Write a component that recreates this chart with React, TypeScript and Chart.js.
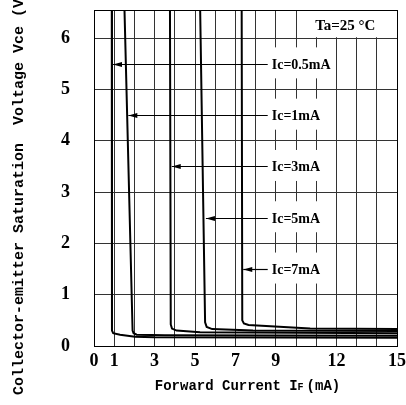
import React, { useEffect, useRef } from "react";
import { Chart, registerables } from "chart.js";

Chart.register(...registerables);

// ---- data ----
const xTickLabels = [0, 1, 3, 5, 7, 9, 12, 15];
const yTickLabels = [0, 1, 2, 3, 4, 5, 6];

const seriesNames = ["Ic=0.5mA", "Ic=1mA", "Ic=3mA", "Ic=5mA", "Ic=7mA"];

const ic05X = [0.88, 0.89, 0.95, 1.29, 2.03, 3.0, 15];
const ic05Y = [6.7, 0.3, 0.25, 0.22, 0.18, 0.17, 0.16];

const ic1X = [1.5, 1.91, 1.96, 2.11, 3.5, 15];
const ic1Y = [6.7, 0.3, 0.25, 0.22, 0.21, 0.2];

const ic3X = [3.76, 3.8, 3.86, 4.09, 5.25, 15];
const ic3Y = [6.7, 0.42, 0.34, 0.3, 0.27, 0.25];

const ic5X = [5.25, 5.5, 5.58, 5.85, 7.87, 15];
const ic5Y = [6.7, 0.46, 0.37, 0.33, 0.3, 0.29];

const ic7X = [7.31, 7.34, 7.42, 7.65, 10.7, 15];
const ic7Y = [6.7, 0.5, 0.44, 0.41, 0.34, 0.33];

const arrowY = [5.5, 4.5, 3.5, 2.5, 1.5];
const arrowTipX = [0.94, 1.7, 3.85, 5.54, 7.39];
const arrowEndX = [8.6, 8.6, 8.6, 8.6, 8.6];

const tempLabel = "Ta=25 °C";
const xTitleMain = "Forward Current I";
const xTitleSub = "F";
const xTitleUnit = "(mA)";
const yTitle = "Collector-emitter Saturation  Voltage Vce (V)";

const toPoints = (xs: number[], ys: number[]) => xs.map((x, i) => ({ x, y: ys[i] }));

const curves = [
  toPoints(ic05X, ic05Y),
  toPoints(ic1X, ic1Y),
  toPoints(ic3X, ic3Y),
  toPoints(ic5X, ic5Y),
  toPoints(ic7X, ic7Y),
];

const decorPlugin = {
  id: "decor",
  beforeDatasetsDraw(chart: any) {
    const { ctx, chartArea, scales } = chart;
    const xs = scales.x;
    const ys = scales.y;
    ctx.save();
    ctx.fillStyle = "#ffffff";
    arrowY.forEach((yv) => {
      const x0 = xs.getPixelForValue(8.75);
      const x1 = xs.getPixelForValue(11.5);
      const yc = ys.getPixelForValue(yv) - 1;
      ctx.fillRect(x0, yc - 15.5, x1 - x0, 31);
    });
    const tx0 = xs.getPixelForValue(10.5);
    const ty1 = ys.getPixelForValue(6) - 1;
    ctx.fillRect(tx0, chartArea.top, chartArea.right - tx0, ty1 - chartArea.top);
    ctx.strokeStyle = "#000";
    ctx.lineWidth = 1;
    ctx.strokeRect(
      Math.round(chartArea.left) + 0.5,
      Math.round(chartArea.top) + 0.5,
      Math.round(chartArea.right - chartArea.left),
      Math.round(chartArea.bottom - chartArea.top)
    );
    ctx.restore();
  },
  afterDatasetsDraw(chart: any) {
    const { ctx, chartArea, scales } = chart;
    const xs = scales.x;
    const ys = scales.y;
    ctx.save();
    ctx.strokeStyle = "#000";
    ctx.fillStyle = "#000";
    arrowY.forEach((yv, i) => {
      const y = Math.round(ys.getPixelForValue(yv)) + 0.5;
      const xt = xs.getPixelForValue(arrowTipX[i]);
      const xe = xs.getPixelForValue(arrowEndX[i]);
      ctx.lineWidth = 1.2;
      ctx.beginPath();
      ctx.moveTo(xt, y);
      ctx.lineTo(xe, y);
      ctx.stroke();
      ctx.beginPath();
      ctx.moveTo(xt, y);
      ctx.lineTo(xt + 9, y - 2.5);
      ctx.lineTo(xt + 9, y + 2.5);
      ctx.closePath();
      ctx.fill();
      ctx.font = "bold 14px 'Liberation Serif'";
      ctx.textAlign = "left";
      ctx.textBaseline = "middle";
      ctx.fillText(seriesNames[i], xe + 4, y + 1);
    });
    ctx.font = "bold 15px 'Liberation Serif'";
    ctx.textAlign = "left";
    ctx.textBaseline = "middle";
    ctx.fillText(tempLabel, xs.getPixelForValue(10.95), (chartArea.top + ys.getPixelForValue(6)) / 2 + 2);
    ctx.restore();
  },
  afterDraw(chart: any) {
    const { ctx, chartArea } = chart;
    ctx.save();
    ctx.fillStyle = "#000";
    ctx.translate(19, 395);
    ctx.rotate(-Math.PI / 2);
    ctx.font = "bold 15px 'Liberation Mono'";
    ctx.textAlign = "left";
    ctx.textBaseline = "middle";
    ctx.fillText(yTitle, 0, 0);
    ctx.restore();

    ctx.save();
    ctx.fillStyle = "#000";
    ctx.textBaseline = "alphabetic";
    ctx.textAlign = "left";
    const mainFont = "bold 14px 'Liberation Mono'";
    const subFont = "bold 10px 'Liberation Mono'";
    ctx.font = mainFont;
    const w1 = ctx.measureText(xTitleMain).width;
    const w3 = ctx.measureText(xTitleUnit).width;
    ctx.font = subFont;
    const w2 = ctx.measureText(xTitleSub).width;
    const gap = 3;
    const total = w1 + w2 + gap + w3;
    const cx = (chartArea.left + chartArea.right) / 2 + 2;
    let x = cx - total / 2;
    const base = 390;
    ctx.font = mainFont;
    ctx.fillText(xTitleMain, x, base);
    x += w1;
    ctx.font = subFont;
    ctx.fillText(xTitleSub, x, base);
    x += w2 + gap;
    ctx.font = mainFont;
    ctx.fillText(xTitleUnit, x, base);
    ctx.restore();
  },
};

export default function App() {
  const canvasRef = useRef<HTMLCanvasElement | null>(null);

  useEffect(() => {
    if (!canvasRef.current) return;
    const chart = new Chart(canvasRef.current, {
      type: "line",
      data: {
        datasets: curves.map((pts, i) => ({
          label: seriesNames[i],
          data: pts,
          borderColor: "#000",
          backgroundColor: "#000",
          borderWidth: 2,
          pointRadius: 0,
          fill: false,
          tension: 0,
          clip: 0,
        })),
      },
      options: {
        animation: false,
        responsive: false,
        devicePixelRatio: 1,
        layout: { padding: { top: 10, right: 9, left: 0, bottom: 0 } },
        plugins: {
          legend: { display: false },
          tooltip: { enabled: false },
          title: { display: false },
        },
        scales: {
          x: {
            type: "linear",
            min: 0,
            max: 15,
            afterFit: (scale: any) => {
              scale.height = 59;
              scale.paddingLeft = 0;
              scale.paddingRight = 0;
            },
            ticks: {
              stepSize: 1,
              autoSkip: false,
              maxRotation: 0,
              padding: 5,
              color: "#000",
              font: { family: "'Liberation Serif'", size: 18, weight: "bold" },
              callback: (v: any) => (xTickLabels.includes(Number(v)) ? String(v) : ""),
            },
            grid: { color: "#333", lineWidth: 1, drawTicks: false },
            border: { display: true, color: "#000", width: 1 },
          },
          y: {
            type: "linear",
            min: 0,
            max: 6.55,
            afterFit: (scale: any) => {
              scale.width = 94;
              scale.paddingTop = 0;
              scale.paddingBottom = 0;
            },
            ticks: {
              stepSize: 1,
              padding: 24,
              color: "#000",
              font: { family: "'Liberation Serif'", size: 18, weight: "bold" },
              callback: (v: any) => (yTickLabels.includes(Number(v)) ? String(v) : ""),
            },
            grid: { color: "#333", lineWidth: 1, drawTicks: false },
            border: { display: true, color: "#000", width: 1 },
          },
        },
      },
      plugins: [decorPlugin],
    } as any);
    return () => chart.destroy();
  }, []);

  return (
    <div style={{ position: "fixed", left: 0, top: 0, width: 406, height: 405, background: "#fff" }}>
      <canvas ref={canvasRef} width={406} height={405} />
    </div>
  );
}
